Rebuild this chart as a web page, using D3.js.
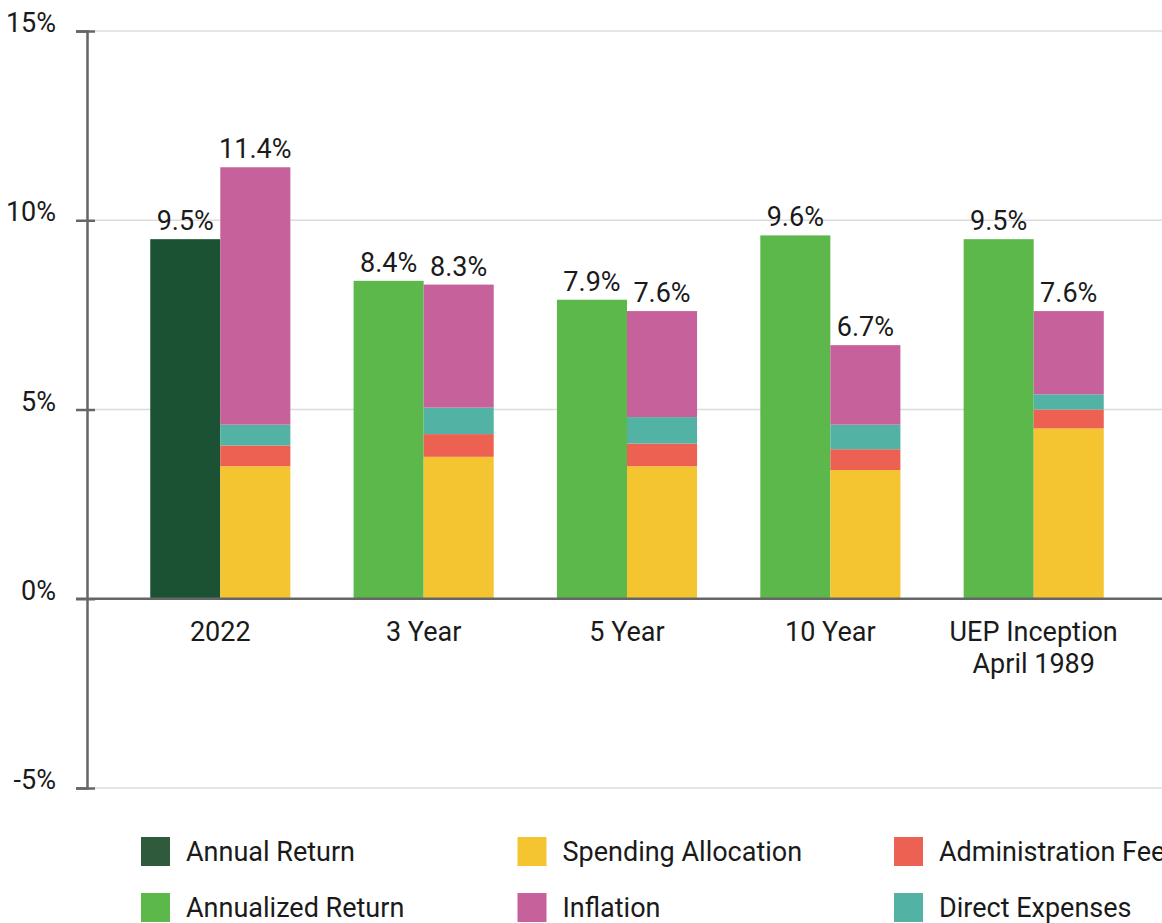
<!DOCTYPE html>
<html>
<head>
<meta charset="utf-8">
<script src="https://cdn.jsdelivr.net/npm/d3@7"></script>
<style>
  body { margin: 0; background: #fff; }
  svg { display: block; font-family: Roboto, "Noto Sans", sans-serif; }
</style>
</head>
<body>
<div class="chart"></div>
<script>
const categories = ["2022", "3 Year", "5 Year", "10 Year", "UEP Inception\nApril 1989"];
const returns = [9.5, 8.4, 7.9, 9.6, 9.5];
const spending = [3.5, 3.75, 3.5, 3.4, 4.5];
const adminFee = [0.55, 0.6, 0.6, 0.55, 0.5];
const directExp = [0.55, 0.7, 0.7, 0.65, 0.4];
const totals = [11.4, 8.3, 7.6, 6.7, 7.6];
const yTicks = [-5, 0, 5, 10, 15];

!function () {
	const width = 1162, height = 923;
	const fontSize = "27px";
	const colors = {
		annual: "#1c5234",
		annualized: "#5cb84a",
		spending: "#f4c531",
		admin: "#ec6152",
		direct: "#52b3a5",
		inflation: "#c7619c"
	};

	const svg = d3.select(".chart")
		.append("svg")
		.attr("width", width)
		.attr("height", height)
		.attr("viewBox", [0, 0, width, height]);

	const x = d3.scaleBand()
		.domain(categories)
		.range([87, 1167])
		.padding(0.311);

	const y = d3.scaleLinear()
		.domain([-5, 15])
		.range([788, 31]);

	// grid
	svg.append("g")
		.selectAll("line")
		.data(yTicks.filter(d => d !== 0))
		.join("line")
		.attr("x1", 95).attr("x2", width)
		.attr("y1", d => y(d)).attr("y2", d => y(d))
		.attr("stroke", "#dcdcdc")
		.attr("stroke-width", 1.5);

	// stack data for the right-hand bar of each group
	const rows = categories.map((c, i) => ({
		cat: c,
		spending: spending[i],
		admin: adminFee[i],
		direct: directExp[i],
		inflation: totals[i] - spending[i] - adminFee[i] - directExp[i]
	}));
	const stack = d3.stack().keys(["spending", "admin", "direct", "inflation"])(rows);
	const half = x.bandwidth() / 2;

	svg.append("g")
		.selectAll("rect")
		.data(categories)
		.join("rect")
		.attr("x", d => x(d))
		.attr("y", (d, i) => y(returns[i]))
		.attr("width", half)
		.attr("height", (d, i) => y(0) - y(returns[i]))
		.attr("fill", (d, i) => i === 0 ? colors.annual : colors.annualized);

	svg.append("g")
		.selectAll("g")
		.data(stack)
		.join("g")
		.attr("fill", s => colors[s.key])
		.selectAll("rect")
		.data(s => s)
		.join("rect")
		.attr("x", d => x(d.data.cat) + half)
		.attr("y", d => y(d[1]))
		.attr("width", half)
		.attr("height", d => y(d[0]) - y(d[1]));

	// value labels
	const fmt = d => d3.format(".1f")(d) + "%";
	const labels = svg.append("g")
		.attr("text-anchor", "middle")
		.attr("fill", "#1a1a1a")
		.style("font-size", fontSize);
	labels.selectAll("text.ret")
		.data(categories)
		.join("text")
		.attr("class", "ret")
		.attr("x", d => x(d) + half / 2)
		.attr("y", (d, i) => y(returns[i]) - 9)
		.text((d, i) => fmt(returns[i]));
	labels.selectAll("text.tot")
		.data(categories)
		.join("text")
		.attr("class", "tot")
		.attr("x", d => x(d) + half * 1.5)
		.attr("y", (d, i) => y(totals[i]) - 9)
		.text((d, i) => fmt(totals[i]));

	// y axis
	svg.append("g")
		.attr("transform", "translate(87,0)")
		.call(d3.axisLeft(y).tickValues(yTicks).tickSize(11).tickPadding(20).tickFormat(d => d + "%"))
		.call(g => g.select(".domain").attr("stroke", "#666").attr("stroke-width", 2.5))
		.call(g => g.selectAll(".tick line").attr("stroke", "#666").attr("stroke-width", 2.5).attr("x2", 8).attr("x1", -11))
		.call(g => g.selectAll(".tick text")
			.attr("fill", "#1a1a1a")
			.attr("dy", "0.32em")
			.attr("y", -8)
			.style("font-size", fontSize)
			.style("font-family", "Roboto, sans-serif"));

	// zero line
	svg.append("line")
		.attr("x1", 76).attr("x2", width)
		.attr("y1", y(0)).attr("y2", y(0))
		.attr("stroke", "#666")
		.attr("stroke-width", 2.5);

	// category labels
	svg.append("g")
		.attr("text-anchor", "middle")
		.attr("fill", "#1a1a1a")
		.style("font-size", fontSize)
		.selectAll("text")
		.data(categories)
		.join("text")
		.attr("x", d => x(d) + x.bandwidth() / 2)
		.attr("y", y(0) + 42)
		.selectAll("tspan")
		.data(d => d.split("\n"))
		.join("tspan")
		.attr("x", function () { return this.parentNode.getAttribute("x"); })
		.attr("dy", (d, i) => i === 0 ? 0 : 32)
		.text(d => d);

	// legend
	const legendItems = [
		{ label: "Annual Return", color: "#2f5a3c", col: 0, row: 0 },
		{ label: "Annualized Return", color: colors.annualized, col: 0, row: 1 },
		{ label: "Spending Allocation", color: colors.spending, col: 1, row: 0 },
		{ label: "Inflation", color: colors.inflation, col: 1, row: 1 },
		{ label: "Administration Fee", color: colors.admin, col: 2, row: 0 },
		{ label: "Direct Expenses", color: colors.direct, col: 2, row: 1 }
	];
	const legend = svg.append("g")
		.selectAll("g")
		.data(legendItems)
		.join("g")
		.attr("transform", d => `translate(${141 + d.col * 376.5},${837 + d.row * 56})`);
	legend.append("rect")
		.attr("width", 29)
		.attr("height", 29)
		.attr("fill", d => d.color);
	legend.append("text")
		.attr("x", 45)
		.attr("y", 15)
		.attr("dy", "0.35em")
		.attr("fill", "#1a1a1a")
		.style("font-size", fontSize)
		.text(d => d.label);
}();
</script>
</body>
</html>
